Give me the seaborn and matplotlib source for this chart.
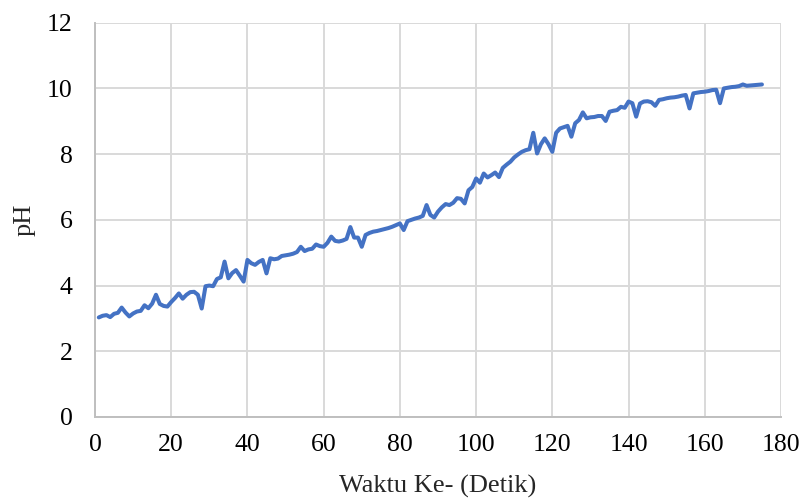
import numpy as np
import pandas as pd
import matplotlib
matplotlib.use("Agg")
import matplotlib.pyplot as plt
import seaborn as sns

waktu = list(range(1, 176))
ph = [
    3.03, 3.08, 3.10, 3.04, 3.14, 3.17, 3.33, 3.18, 3.06, 3.15,
    3.21, 3.23, 3.40, 3.31, 3.45, 3.72, 3.44, 3.38, 3.36, 3.50,
    3.62, 3.76, 3.60, 3.72, 3.80, 3.81, 3.72, 3.30, 3.98, 4.00,
    3.98, 4.20, 4.25, 4.73, 4.22, 4.38, 4.47, 4.30, 4.12, 4.78,
    4.68, 4.63, 4.72, 4.78, 4.37, 4.83, 4.80, 4.82, 4.90, 4.92,
    4.94, 4.97, 5.02, 5.18, 5.05, 5.10, 5.12, 5.25, 5.20, 5.18,
    5.30, 5.49, 5.36, 5.34, 5.37, 5.42, 5.78, 5.46, 5.46, 5.18,
    5.54, 5.60, 5.64, 5.66, 5.69, 5.72, 5.75, 5.79, 5.84, 5.89,
    5.69, 5.96, 6.00, 6.04, 6.07, 6.12, 6.45, 6.15, 6.07, 6.25,
    6.38, 6.48, 6.45, 6.52, 6.66, 6.64, 6.50, 6.90, 7.00, 7.26,
    7.13, 7.41, 7.29, 7.36, 7.44, 7.30, 7.58, 7.68, 7.77, 7.90,
    7.99, 8.07, 8.12, 8.15, 8.65, 8.02, 8.30, 8.48, 8.30, 8.07,
    8.65, 8.78, 8.82, 8.86, 8.53, 8.94, 9.04, 9.27, 9.09, 9.12,
    9.13, 9.16, 9.16, 9.01, 9.29, 9.32, 9.34, 9.44, 9.41, 9.60,
    9.55, 9.14, 9.54, 9.60, 9.61, 9.58, 9.47, 9.65, 9.67, 9.70,
    9.72, 9.73, 9.75, 9.78, 9.80, 9.39, 9.85, 9.87, 9.89, 9.90,
    9.92, 9.95, 9.96, 9.55, 10.00, 10.02, 10.04, 10.05, 10.07, 10.12,
    10.08, 10.09, 10.10, 10.11, 10.12,
]
x_ticks = [0, 20, 40, 60, 80, 100, 120, 140, 160, 180]
y_ticks = [0, 2, 4, 6, 8, 10, 12]

df = pd.DataFrame({"Waktu": waktu, "pH": ph})

sns.set_style("whitegrid")
plt.rcParams["font.family"] = ["Liberation Serif", "DejaVu Serif"]

fig = plt.figure(figsize=(8.03, 5.01), dpi=100)
ax = fig.add_axes([0.1183, 0.1677, 0.9726 - 0.1183, 0.9547 - 0.1677])

sns.lineplot(data=df, x="Waktu", y="pH", ax=ax, color="#4472C4", linewidth=2.9)

ax.set_xlim(0, 180)
ax.set_ylim(0, 12)
ax.set_xticks(x_ticks)
ax.set_yticks(y_ticks)
ax.grid(True, color="#d9d9d9", linewidth=1.4)
for s in ["top", "right"]:
    ax.spines[s].set_visible(False)
for s in ["left", "bottom"]:
    ax.spines[s].set_color("#bfbfbf")
    ax.spines[s].set_linewidth(1.4)
ax.tick_params(axis="both", length=0, labelsize=18.5, colors="black")
ax.tick_params(axis="y", pad=16)
ax.tick_params(axis="x", pad=12)
ax.set_xlabel("Waktu Ke- (Detik)", fontsize=19, labelpad=14)
ax.set_ylabel("pH", fontsize=19, labelpad=8)

fig.savefig("out.png", dpi=100)
